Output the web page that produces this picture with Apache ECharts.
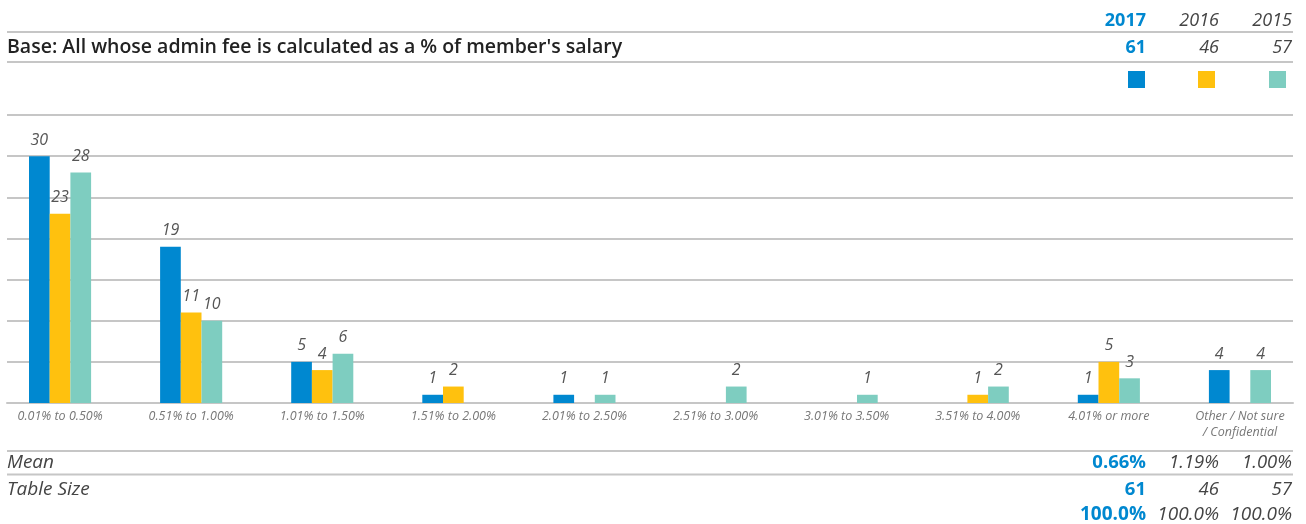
<!DOCTYPE html>
<html>
<head>
<meta charset="utf-8">
<script src="https://cdn.jsdelivr.net/npm/echarts@6/dist/echarts.min.js"></script>
<style>
  html, body { margin: 0; padding: 0; background: #fff; }
  #chart { width: 1306px; height: 524px; }
</style>
</head>
<body>
<div id="chart"></div>
<script>
const FONT = '"Open Sans", Lato, sans-serif';

// values
const categories = [
  "0.01% to 0.50%", "0.51% to 1.00%", "1.01% to 1.50%", "1.51% to 2.00%",
  "2.01% to 2.50%", "2.51% to 3.00%", "3.01% to 3.50%", "3.51% to 4.00%",
  "4.01% or more", "Other / Not sure\n/ Confidential"
];
const years = ["2017", "2016", "2015"];
const v2017 = [30, 19, 5, 1, 1, null, null, null, 1, 4];
const v2016 = [23, 11, 4, 2, null, null, null, 1, 5, null];
const v2015 = [28, 10, 6, null, 1, 2, 1, 2, 3, 4];
const baseSizes = ["61", "46", "57"];
const means = ["0.66%", "1.19%", "1.00%"];
const tableSizes = ["61", "46", "57"];
const totals = ["100.0%", "100.0%", "100.0%"];
const baseText = "Base: All whose admin fee is calculated as a % of member's salary";

const COLORS = ["#0088D0", "#FFC10E", "#7ECDC0"];
const LINE = "#c6c6c6";
const colRight = [1146, 1219, 1292];   // right edge of each year column
const swatchRight = [1145, 1215, 1286];

const chart = echarts.init(document.getElementById("chart"), null, { renderer: "canvas" });

// 2017 column is bold blue, the older years grey italic
function cellStyle(i) {
  return i === 0
    ? { fill: COLORS[0], fontWeight: "bold", fontStyle: "normal" }
    : { fill: "#444", fontWeight: "normal", fontStyle: "italic" };
}

const graphics = [];
[32, 62, 451, 474.5].forEach((y) => {
  graphics.push({ type: "line", shape: { x1: 7, y1: y, x2: 1293, y2: y },
    style: { stroke: LINE, lineWidth: 2 }, silent: true });
});
graphics.push({ type: "text", x: 7, y: 47,
  style: { text: baseText, font: "600 19.5px " + FONT, fill: "#222", textVerticalAlign: "middle" } });
graphics.push({ type: "text", x: 7, y: 463,
  style: { text: "Mean", font: "italic 19px " + FONT, fill: "#444", textVerticalAlign: "middle" } });
graphics.push({ type: "text", x: 7, y: 490,
  style: { text: "Table Size", font: "italic 19px " + FONT, fill: "#444", textVerticalAlign: "middle" } });

const rows = [[years, 21, 18], [baseSizes, 48, 18], [means, 463, 18.5], [tableSizes, 490, 18.5], [totals, 515, 19]];
rows.forEach(([vals, y, size]) => {
  vals.forEach((t, i) => {
    const s = cellStyle(i);
    graphics.push({ type: "text", x: colRight[i], y: y,
      style: { text: t, font: s.fontStyle + " " + s.fontWeight + " " + size + "px " + FONT,
        fill: s.fill, textAlign: "right", textVerticalAlign: "middle" } });
  });
});
COLORS.forEach((c, i) => {
  graphics.push({ type: "rect", shape: { x: swatchRight[i] - 17, y: 71, width: 17, height: 17 },
    style: { fill: c }, silent: true });
});

const barLabel = {
  show: true, position: "top", distance: 8,
  color: "#555", fontStyle: "italic", fontSize: 16, fontFamily: FONT
};
const series = [v2017, v2016, v2015].map((d, i) => ({
  name: years[i], type: "bar", xAxisIndex: 0, yAxisIndex: 0,
  data: d, barWidth: 20.7, barGap: "0%",
  itemStyle: { color: COLORS[i] }, label: barLabel
}));

chart.setOption({
  backgroundColor: "#fff",
  animation: false,
  // grid 0 holds the bars and runs a little past the left edge so the groups
  // land where they do; grid 1 only draws the rules between x=7 and x=1293
  grid: [
    { left: -5.5, right: 0.5, top: 115, bottom: 121, outerBoundsMode: "none" },
    { left: 7, right: 13, top: 115, bottom: 121, outerBoundsMode: "none" }
  ],
  xAxis: [
    { type: "category", gridIndex: 0, data: categories,
      axisLine: { show: false }, axisTick: { show: false },
      axisLabel: { interval: 0, margin: 5, color: "#777", fontStyle: "italic",
        fontSize: 12.5, fontFamily: FONT, lineHeight: 16 } },
    { type: "category", gridIndex: 1, data: categories,
      axisLine: { show: true, lineStyle: { color: LINE, width: 2 } },
      axisTick: { show: false }, axisLabel: { show: false } }
  ],
  yAxis: [
    { type: "value", gridIndex: 0, min: 0, max: 35, interval: 5,
      axisLine: { show: false }, axisTick: { show: false },
      axisLabel: { show: false }, splitLine: { show: false } },
    { type: "value", gridIndex: 1, min: 0, max: 35, interval: 5,
      axisLine: { show: false }, axisTick: { show: false }, axisLabel: { show: false },
      splitLine: { lineStyle: { color: LINE, width: 2 } } }
  ],
  series,
  graphic: graphics
});
</script>
</body>
</html>
